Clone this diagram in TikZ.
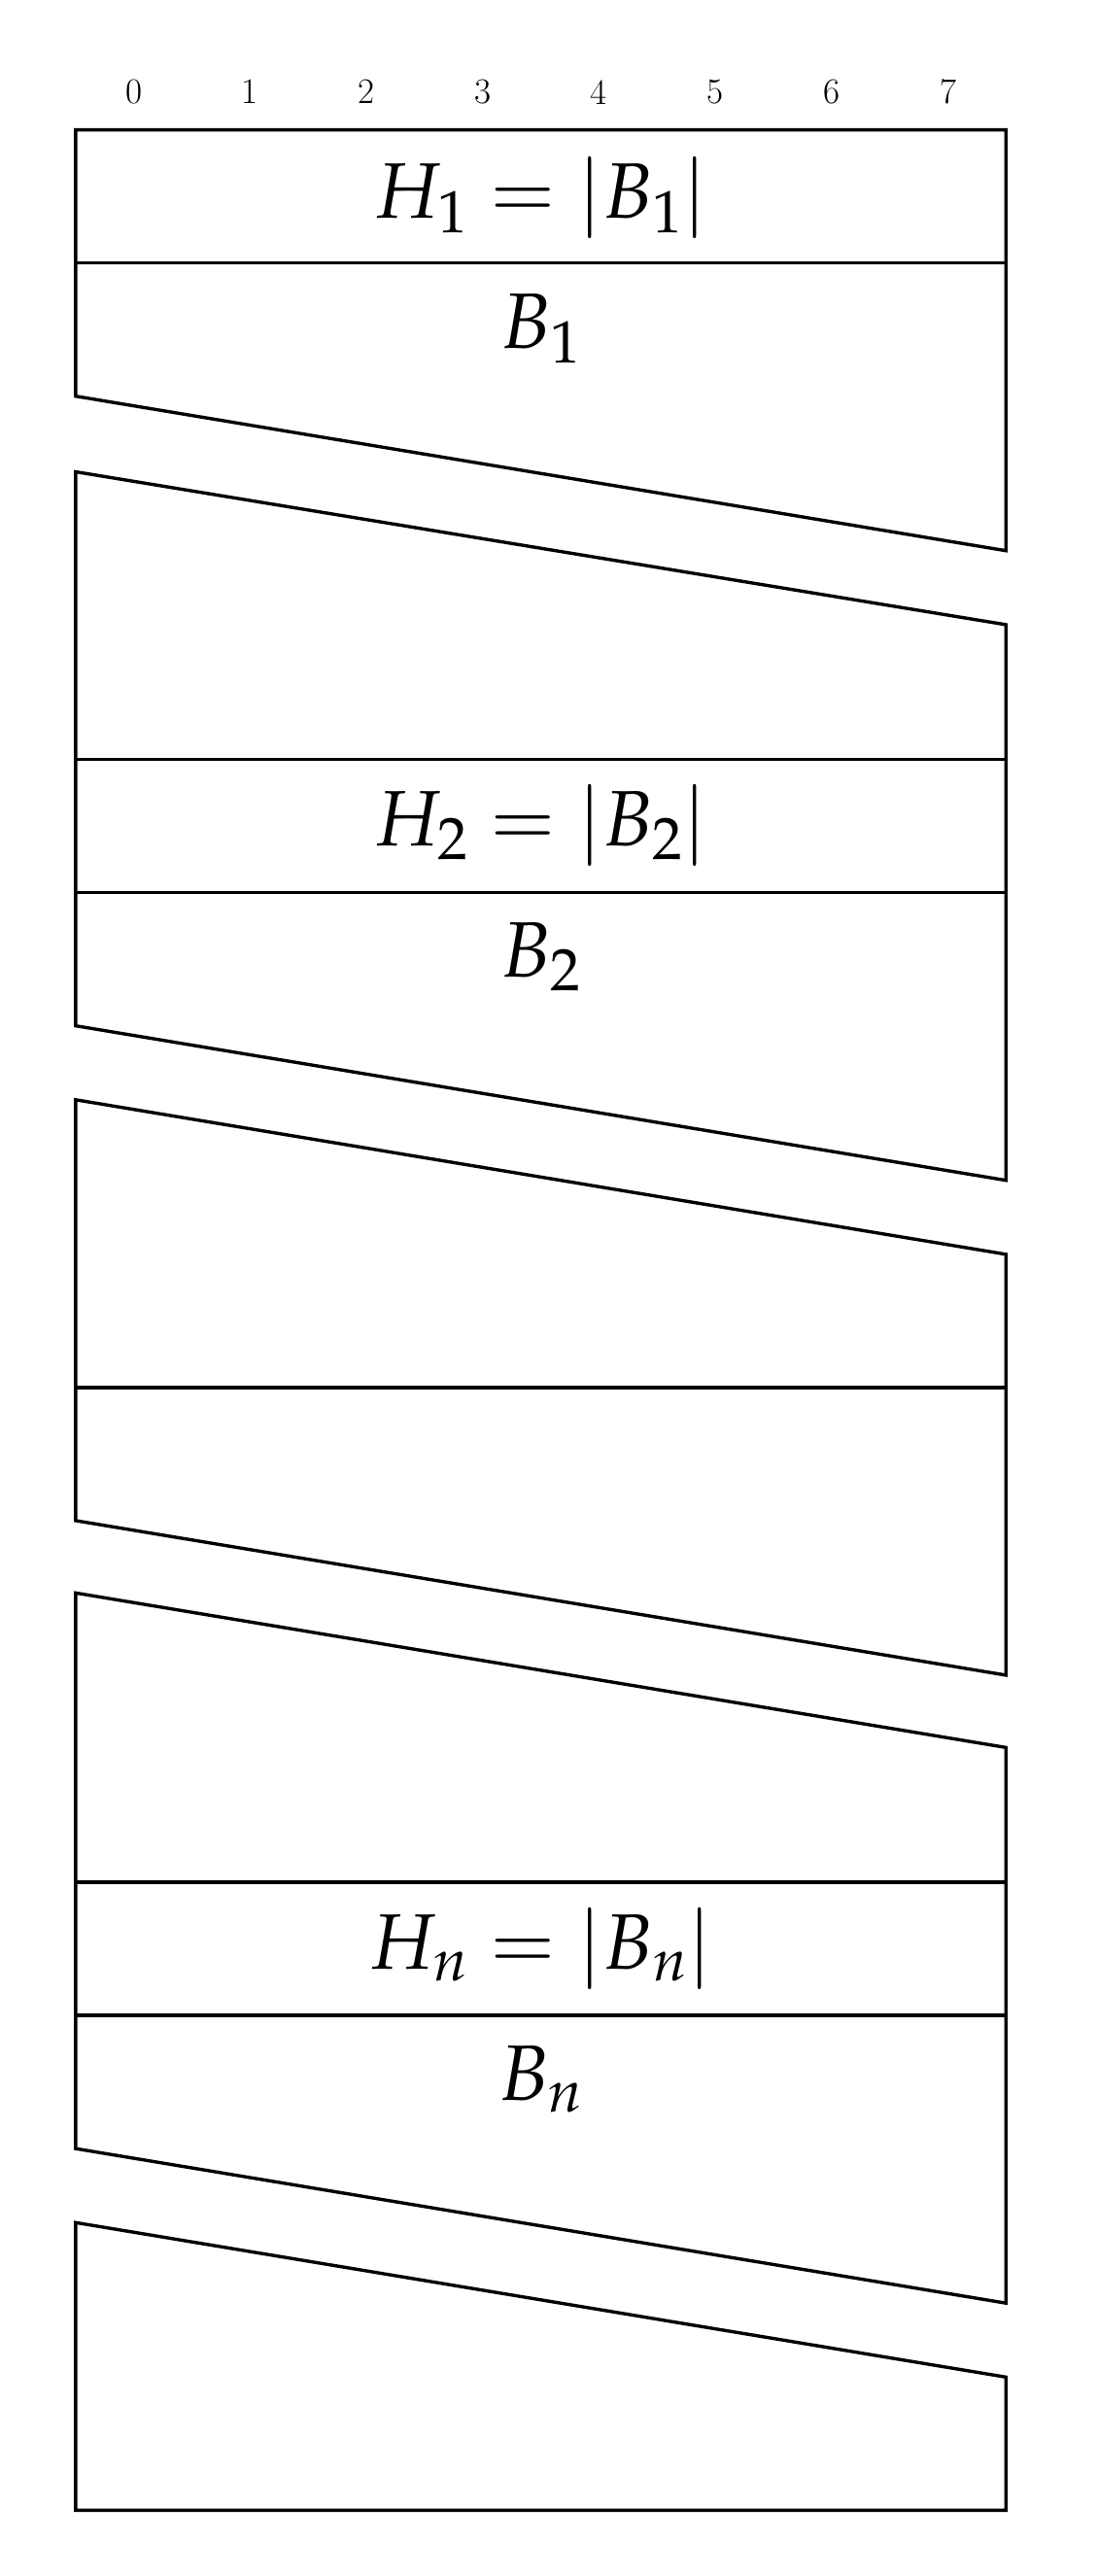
\documentclass[tikz,border=0pt]{standalone}
\usepackage{mathpazo}
\begin{document}
\begin{tikzpicture}[x=1bp,y=-1bp,line width=2bp,line join=miter,
  big/.style={font=\fontsize{48}{54}\selectfont},
  dig/.style={font=\fontsize{22}{26}\selectfont}]
\useasboundingbox (0,0) rectangle (667,1567);
\foreach \i in {0,...,7} \node[dig] (d\i) at (46+35.4+70.75*\i,56) {\i};
% piece 1
\draw (46,241) -- (46,79) -- (612,79) -- (612,335) -- cycle;
\draw (46,160) -- (612,160);
\node[big] (h1) at (329,120) {$H_1=|B_1|$};
\node[big] (b1) at (329,200) {$B_1$};
% piece 2
\draw (46,287) -- (612,380) -- (612,718) -- (46,624) -- cycle;
\draw (46,462) -- (612,462); \draw (46,543) -- (612,543);
\node[big] (h2) at (329,502) {$H_2=|B_2|$};
\node[big] (b2) at (329,582) {$B_2$};
% piece 3
\draw (46,669) -- (612,763) -- (612,1019) -- (46,925) -- cycle;
\draw (46,844) -- (612,844);
% piece 4
\draw (46,969) -- (612,1063) -- (612,1401) -- (46,1307) -- cycle;
\draw (46,1145) -- (612,1145); \draw (46,1226) -- (612,1226);
\node[big] (hn) at (329,1185) {$H_n=|B_n|$};
\node[big] (bn) at (329,1265) {$B_n$};
% piece 5
\draw (46,1352) -- (612,1446) -- (612,1527) -- (46,1527) -- cycle;
\end{tikzpicture}
\end{document}
